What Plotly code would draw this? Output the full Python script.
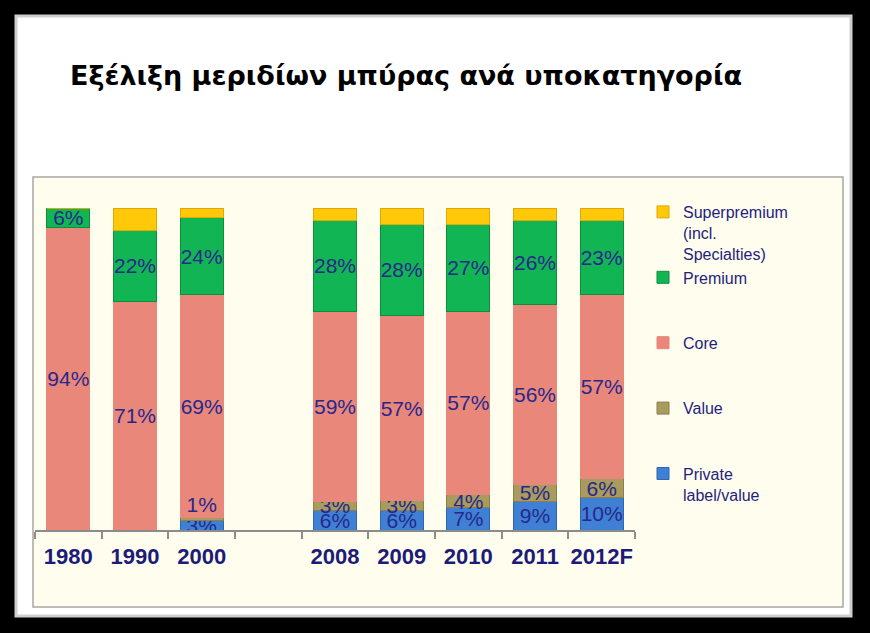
import plotly.graph_objects as go

# ---- data ----
categories = ["1980", "1990", "2000", " ", "2008", "2009", "2010", "2011", "2012F"]
private_label = [0, 0, 3, None, 6, 6, 7, 9, 10]
value = [0, 0, 1, None, 3, 3, 4, 5, 6]
core = [94, 71, 69, None, 59, 57, 57, 56, 57]
premium = [6, 22, 24, None, 28, 28, 27, 26, 23]
superpremium = [0, 7, 3, None, 4, 5, 5, 4, 4]
value_label_above = ["2000"]  # categories whose Value label sits above the segment

series_names = [
    "Private<br>label/value",
    "Value<br>\u00a0<br>\u00a0",
    "Core<br>\u00a0<br>\u00a0",
    "Premium<br>\u00a0<br>\u00a0",
    "Superpremium<br>(incl.<br>Specialties)",
]
title_text = "Εξέλιξη μεριδίων μπύρας ανά υποκατηγορία"

fills = ["#3F80D4", "#A99A5E", "#E9877B", "#12B553", "#FFC90A"]
edges = ["#2F66B0", "#8C7E48", "#E9877B", "#0B8E3E", "#E0A800"]
label_color = "#27288C"

def labels(vals, show=True, skip=()):
    out = []
    for c, v in zip(categories, vals):
        if not show or v is None or v == 0 or c in skip:
            out.append("")
        else:
            out.append(f"{v}%")
    return out

series = [private_label, value, core, premium, superpremium]
text_sets = [
    labels(private_label),
    labels(value, skip=value_label_above),
    labels(core),
    labels(premium),
    labels(superpremium, show=False),
]

fig = go.Figure()
for name, vals, txt, fc, ec in zip(series_names, series, text_sets, fills, edges):
    fig.add_trace(go.Bar(
        x=categories, y=vals, name=name, text=txt,
        textposition="inside", insidetextanchor="middle", textangle=0,
        textfont=dict(family="Liberation Sans, Arial", size=21, color=label_color),
        marker=dict(color=fc, line=dict(color=ec, width=1)),
        hoverinfo="skip",
    ))

# Value labels placed above their (tiny) segment
above_x, above_y, above_t = [], [], []
for c, pl, v in zip(categories, private_label, value):
    if c in value_label_above:
        above_x.append(c)
        above_y.append(pl + v)
        above_t.append(f"{v}%")
fig.add_trace(go.Scatter(
    x=above_x, y=above_y, text=above_t, mode="text", textposition="top center",
    textfont=dict(family="Liberation Sans, Arial", size=21, color=label_color),
    showlegend=False, hoverinfo="skip",
))

# pixel geometry helpers (layout only)
L, R, T, B = 35, 235, 208, 103
W, H = 870 - L - R, 633 - T - B
px = lambda v: (v - L) / W
py = lambda v: (633 - B - v) / H

fig.update_layout(
    width=870, height=633,
    margin=dict(l=L, r=R, t=T, b=B, autoexpand=False),
    barmode="stack", barnorm="percent", bargap=0.355,
    paper_bgcolor="#000000", plot_bgcolor="rgba(0,0,0,0)",
    uniformtext=dict(minsize=21, mode="show"),
    title=dict(text=title_text, xref="container", yref="container",
               x=70 / 870, xanchor="left", y=1 - 76 / 633, yanchor="middle",
               font=dict(family="DejaVu Sans", size=27, color="#000000",
                         weight="bold")),
    xaxis=dict(type="category", categoryorder="array", categoryarray=categories,
               range=[-0.5, len(categories) - 0.5],
               showline=True, linecolor="#8C8C8C", linewidth=1.5,
               ticks="outside", tickson="boundaries", ticklen=7, tickcolor="#8C8C8C",
               tickwidth=1.5, ticklabelstandoff=6, tickangle=0,
               tickfont=dict(family="Liberation Sans, Arial", size=22, color="#1C1C78",
                             weight="bold"),
               showgrid=False, zeroline=False, fixedrange=True),
    yaxis=dict(range=[0, 100], visible=False, fixedrange=True),
    legend=dict(x=px(643), y=py(195), xanchor="left", yanchor="top", maxheight=600,
                traceorder="reversed", valign="top", bgcolor="rgba(0,0,0,0)",
                font=dict(family="Liberation Sans, Arial", size=16, color="#23237E")),
    shapes=[
        dict(type="rect", xref="paper", yref="paper", layer="below",
             x0=px(16), x1=px(851), y0=py(616), y1=py(16),
             fillcolor="#FFFFFF", line=dict(color="#CFCFCF", width=3)),
        dict(type="rect", xref="paper", yref="paper", layer="below",
             x0=px(33), x1=px(843), y0=py(607), y1=py(177),
             fillcolor="#FFFDEE", line=dict(color="#A8A8A0", width=1.5)),
    ],
)

fig.write_html("out.html", config={"displayModeBar": False},
               post_script="document.body.style.margin='0';document.body.style.background='#000';")
